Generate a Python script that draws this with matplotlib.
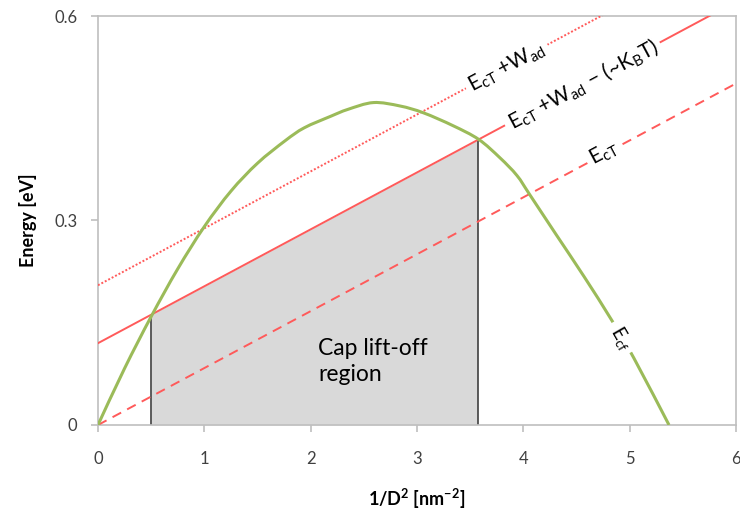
import matplotlib
matplotlib.use('Agg')
import matplotlib.pyplot as plt
from matplotlib.path import Path
from matplotlib.patches import PathPatch
import numpy as np

plt.rcParams['font.family'] = ['Lato', 'DejaVu Sans']
plt.rcParams['mathtext.fontset'] = 'custom'
plt.rcParams['mathtext.rm'] = 'Lato'
plt.rcParams['mathtext.it'] = 'Lato'
plt.rcParams['mathtext.bf'] = 'Lato:bold'
plt.rcParams['mathtext.default'] = 'regular'

# E_cf curve
x_cf = [0, 0.25, 0.50, 0.75, 1.00, 1.25, 1.50, 1.76, 1.94, 2.19, 2.35, 2.59, 2.84,
        3.06, 3.34, 3.58, 3.78, 3.94, 4.06, 4.31, 4.57, 4.83, 5.04, 5.37]
e_cf = [0, 0.083, 0.159, 0.229, 0.291, 0.343, 0.384, 0.417, 0.436, 0.453, 0.463,
        0.473, 0.468, 0.458, 0.439, 0.419, 0.392, 0.366, 0.338, 0.279, 0.218,
        0.154, 0.098, 0.0]

# straight lines: values at x = 0 and x = 6
x_line = [0, 6]
e_ct = [0.0, 0.501]
e_ct_wad_kt = [0.12, 0.621]
e_ct_wad = [0.205, 0.706]

# cap lift-off region bounds (crossings of E_cf with E_cT+W_ad-(~kT))
x_region = [0.5, 3.57]

green = '#9bbb59'
red = '#ff5a5a'
grey = '#bfbfbf'


def smooth_path(xs, ys):
    """Excel-style smoothed line: Catmull-Rom segments as cubic Beziers."""
    p = np.column_stack([xs, ys])
    verts = [p[0]]
    codes = [Path.MOVETO]
    n = len(p)
    for i in range(n - 1):
        p0 = p[i - 1] if i > 0 else p[i]
        p3 = p[i + 2] if i + 2 < n else p[i + 1]
        c1 = p[i] + (p[i + 1] - p0) / 6
        c2 = p[i + 1] - (p3 - p[i]) / 6
        verts += [c1, c2, p[i + 1]]
        codes += [Path.CURVE4] * 3
    return Path(verts, codes)


fig = plt.figure(figsize=(7.4, 5.23), dpi=100)
ax = fig.add_axes([0.1324, 0.1874, 0.8622, 0.782])

# shaded region under the solid line
xf = np.array(x_region)
yf = np.interp(xf, x_line, e_ct_wad_kt)
ax.fill_between(xf, 0, yf, color='#d9d9d9', zorder=1, linewidth=0)
ax.vlines(xf, 0, yf, color='#404040', linewidth=1.2, zorder=2)

ax.plot(x_line, e_ct, color=red, linewidth=1.4, linestyle=(0, (5, 3.5)), zorder=3)
ax.plot(x_line, e_ct_wad_kt, color=red, linewidth=1.4, zorder=3)
ax.plot(x_line, e_ct_wad, color=red, linewidth=1.4, linestyle=(0, (1, 1)), zorder=3)
ax.add_patch(PathPatch(smooth_path(x_cf, e_cf), facecolor='none', edgecolor=green,
                       linewidth=2.2, zorder=4, capstyle='butt'))

bbox = dict(facecolor='white', edgecolor='none', pad=3)
ax.text(3.85, 0.524, 'E$_{cT}$ +W$_{ad}$', rotation=28, ha='center', va='center',
        fontsize=15, bbox=bbox, zorder=5, rotation_mode='anchor')
ax.text(4.56, 0.499, 'E$_{cT}$ +W$_{ad}$ − (~K$_B$T)', rotation=28, ha='center', va='center',
        fontsize=15, bbox=bbox, zorder=5, rotation_mode='anchor')
ax.text(4.76, 0.399, 'E$_{cT}$', rotation=28, ha='center', va='center',
        fontsize=15, bbox=bbox, zorder=5, rotation_mode='anchor')
ax.text(4.92, 0.128, 'E$_{cf}$', rotation=-60, ha='center', va='center',
        fontsize=13.5, bbox=dict(facecolor='white', edgecolor='none', pad=4),
        zorder=5, rotation_mode='anchor')

ax.text(2.07, 0.093, 'Cap lift-off\nregion', ha='left', va='center', fontsize=16.5,
        linespacing=1.3, zorder=5)

ax.set_xlim(0, 6)
ax.set_ylim(0, 0.6)
ax.set_xticks(range(7))
ax.set_yticks([0, 0.3, 0.6])
ax.set_yticklabels(['0', '0.3', '0.6'])
for s in ax.spines.values():
    s.set_color(grey)
    s.set_linewidth(1.2)
ax.tick_params(direction='out', length=5, width=1.2, color=grey, labelcolor='#404040',
               labelsize=12)
ax.tick_params(axis='x', pad=14)
ax.tick_params(axis='y', pad=10)

ax.set_xlabel('1/D$^{2}$ [nm$^{-2}$]', fontsize=13, fontweight='bold', labelpad=14)
ax.set_ylabel('Energy [eV]', fontsize=13, fontweight='bold', labelpad=12)

fig.savefig('out.png', dpi=100)
